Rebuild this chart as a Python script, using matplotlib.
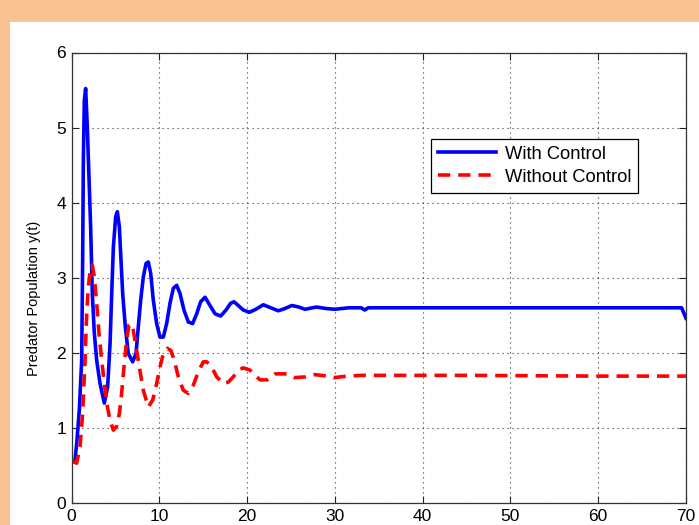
import matplotlib
matplotlib.use("Agg")
import matplotlib.pyplot as plt
from matplotlib.patches import Rectangle

plt.rcParams["font.family"] = ["Liberation Sans", "DejaVu Sans"]

# With Control (blue solid)
t_ctrl = [0.40, 0.59, 0.89, 1.16, 1.27, 1.35, 1.46, 1.61, 1.80, 1.99, 2.18, 2.37,
          2.60, 2.87, 3.25, 3.74, 4.12, 4.39, 4.58, 4.77, 5.03, 5.22, 5.45, 5.60,
          5.83, 6.13, 6.47, 6.97, 7.35, 7.61, 7.88, 8.18, 8.49, 8.75, 9.02, 9.32,
          9.70, 10.08, 10.46, 10.84, 11.22, 11.60, 11.98, 12.36, 12.81, 13.31, 13.80,
          14.26, 14.71, 15.21, 15.78, 16.35, 16.99, 17.60, 18.13, 18.51, 19.00, 19.57,
          20.26, 21.00, 21.85, 22.70, 23.55, 24.30, 25.10, 25.90, 26.60, 27.90, 29.00,
          30.00, 31.60, 33.00, 33.40, 33.80, 40.0, 50.0, 60.0, 69.5, 70.0]
y_ctrl = [0.57, 0.79, 1.24, 1.90, 3.23, 4.56, 5.36, 5.52, 5.01, 4.34, 3.68, 2.79,
          2.26, 1.90, 1.59, 1.33, 1.55, 2.12, 2.79, 3.41, 3.81, 3.88, 3.68, 3.32,
          2.79, 2.35, 1.99, 1.88, 1.99, 2.35, 2.70, 3.01, 3.19, 3.21, 3.06, 2.70,
          2.39, 2.21, 2.21, 2.39, 2.66, 2.86, 2.90, 2.79, 2.57, 2.41, 2.39,
          2.52, 2.68, 2.74, 2.63, 2.52, 2.49, 2.57, 2.66, 2.68, 2.63, 2.57,
          2.54, 2.58, 2.64, 2.60, 2.56, 2.59, 2.63, 2.61, 2.58, 2.61, 2.59,
          2.58, 2.60, 2.60, 2.57, 2.60, 2.60, 2.60, 2.60, 2.60, 2.46]

# Without Control (red dashed)
t_free = [0.21, 0.59, 0.97, 1.27, 1.54, 1.73, 1.92, 2.18, 2.37, 2.60, 2.87, 3.13,
          3.44, 3.74, 4.01, 4.39, 4.77, 5.14, 5.45, 5.71, 5.98, 6.28, 6.55, 6.78,
          7.04, 7.35, 7.73, 8.18, 8.75, 9.25, 9.70, 10.08, 10.46, 10.92, 11.33, 11.71,
          12.17, 12.74, 13.31, 13.88, 14.45, 15.02, 15.40, 15.97, 16.54, 17.29, 17.86,
          18.43, 19.00, 19.57, 20.33, 21.09, 21.50, 22.30, 23.20, 24.50, 25.40, 26.70,
          27.70, 29.20, 29.90, 31.40, 33.0, 45.0, 60.0, 70.0]
y_free = [0.55, 0.53, 0.75, 1.19, 1.90, 2.52, 2.88, 3.14, 3.17, 3.01, 2.66, 2.26,
          1.90, 1.59, 1.33, 1.10, 0.97, 1.02, 1.19, 1.46, 1.81, 2.17, 2.37, 2.39,
          2.30, 2.08, 1.81, 1.50, 1.28, 1.37, 1.59, 1.81, 1.99, 2.06, 2.03, 1.90,
          1.68, 1.50, 1.46, 1.57, 1.75, 1.88, 1.88, 1.81, 1.68, 1.59, 1.61,
          1.68, 1.77, 1.80, 1.77, 1.68, 1.64, 1.64, 1.72, 1.72, 1.67, 1.68,
          1.71, 1.69, 1.67, 1.69, 1.70, 1.70, 1.69, 1.69]

labels = ["With Control", "Without Control"]
x_ticks = [0, 10, 20, 30, 40, 50, 60, 70]
y_ticks = [0, 1, 2, 3, 4, 5, 6]

fig = plt.figure(figsize=(6.99, 5.25), dpi=100)
fig.patch.set_facecolor("white")

# orange page frame
orange = "#fac192"
fig.patches.append(Rectangle((0, 1 - 22 / 525), 1, 22 / 525, transform=fig.transFigure,
                             facecolor=orange, edgecolor="none", zorder=0))
fig.patches.append(Rectangle((0, 0), 10 / 699, 1, transform=fig.transFigure,
                             facecolor=orange, edgecolor="none", zorder=0))

ax = fig.add_axes([71.5 / 699, 22 / 525, (686 - 71.5) / 699, (503 - 52.5) / 525])

ax.plot(t_ctrl, y_ctrl, color="#0000ff", lw=2.6, solid_joinstyle="round",
        label=labels[0])
ax.plot(t_free, y_free, color="#ff0000", lw=2.6, dashes=(3.4, 2.2),
        dash_joinstyle="round", label=labels[1])

ax.set_xlim(0, 70)
ax.set_ylim(0, 6)
ax.set_xticks(x_ticks)
ax.set_yticks(y_ticks)
ax.tick_params(direction="in", length=5, width=0.8, labelsize=12.5, pad=4,
               top=True, right=True, colors="#222222", labelcolor="black")
ax.grid(True, color="#333333", linestyle=(0, (1, 3.5)), linewidth=0.8)
for sp in ax.spines.values():
    sp.set_color("#333333")
    sp.set_linewidth(0.9)

ax.set_ylabel("Predator Population y(t)", fontsize=10.5)
ax.yaxis.set_label_coords(-0.049, 0.455)

leg = ax.legend(loc="upper right", bbox_to_anchor=(0.922, 0.809), borderaxespad=0,
                fontsize=13.2, handlelength=3.2, frameon=True, fancybox=False,
                framealpha=1, edgecolor="black", borderpad=0.38, labelspacing=0.34,
                handletextpad=0.45)
leg.get_frame().set_linewidth(0.9)

fig.savefig("out.png", dpi=100, facecolor=fig.get_facecolor())
